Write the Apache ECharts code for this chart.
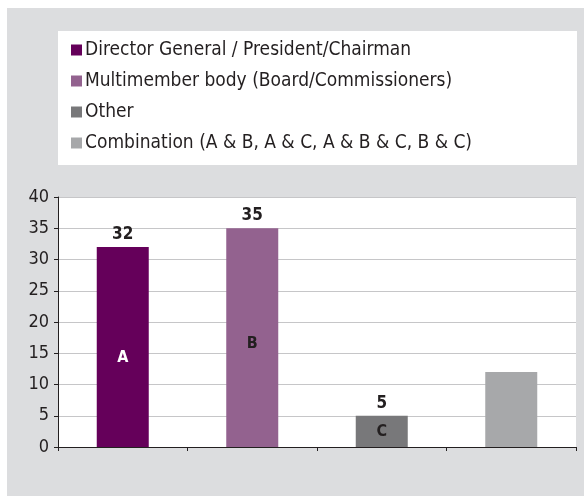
<!DOCTYPE html>
<html>
<head>
<meta charset="utf-8">
<script src="https://cdn.jsdelivr.net/npm/echarts@6/dist/echarts.min.js"></script>
<style>
  html, body { margin: 0; padding: 0; background: #fff; }
  #chart { width: 584px; height: 496px; }
</style>
</head>
<body>
<div id="chart"></div>
<script>
const categories = ["A", "B", "C", "D"];
const seriesNames = [
  "Director General / President/Chairman",
  "Multimember body (Board/Commissioners)",
  "Other",
  "Combination (A & B, A & C, A & B & C, B & C)"
];
const values = [32, 35, 5, 12];
const valueLabels = ["32", "35", "5", ""];
const letterLabels = ["A", "B", "C", ""];
const colors = ["#65005a", "#93628f", "#78787a", "#a7a8aa"];
const letterColors = ["#ffffff", "#231f20", "#231f20", "#231f20"];
const letterOffsets = [[0, 11], [0, 6], [0, 0], [0, 0]];
const yTicks = [0, 5, 10, 15, 20, 25, 30, 35, 40];

const font = "'Liberation Sans Narrow', 'DejaVu Sans Condensed', sans-serif";

// one stacked series per legend entry, value only in its own column
const barSeries = seriesNames.map((name, i) => ({
  name: name,
  type: "bar",
  stack: "main",
  barWidth: 52,
  itemStyle: { color: colors[i] },
  data: values.map((v, j) => (j === i ? v : "-")),
  label: {
    show: true,
    position: "top",
    distance: 4,
    fontFamily: font,
    fontWeight: "bold",
    fontSize: 17,
    color: "#231f20",
    formatter: (p) => valueLabels[p.dataIndex]
  }
}));

// transparent overlay that carries the A/B/C letters
const letterSeries = {
  name: "letters",
  type: "bar",
  barGap: "-100%",
  barWidth: 52,
  silent: true,
  itemStyle: { color: "rgba(0,0,0,0)" },
  data: values.map((v, j) => ({
    value: v,
    label: { color: letterColors[j], offset: letterOffsets[j] }
  })),
  label: {
    show: true,
    position: "inside",
    fontFamily: font,
    fontWeight: "bold",
    fontSize: 16,
    formatter: (p) => letterLabels[p.dataIndex]
  }
};

const option = {
  animation: false,
  backgroundColor: "#fff",
  graphic: [
    { type: "rect", left: 7, top: 8, shape: { width: 577, height: 488 }, style: { fill: "#dcdddf" }, z: -10 },
    { type: "rect", left: 58, top: 31, shape: { width: 519, height: 134 }, style: { fill: "#fff" }, z: -9 }
  ],
  legend: {
    data: seriesNames,
    orient: "vertical",
    left: 71,
    top: 40,
    itemWidth: 11,
    itemHeight: 11,
    itemGap: 11,
    icon: "rect",
    padding: 0,
    textStyle: { fontFamily: font, fontSize: 19, color: "#231f20", lineHeight: 20, padding: [0, 0, 0, -2] },
    selectedMode: false
  },
  grid: {
    left: 58,
    right: 8,
    top: 197,
    bottom: 49,
    show: true,
    backgroundColor: "#fff",
    borderWidth: 0
  },
  xAxis: {
    type: "category",
    data: categories,
    axisLine: { lineStyle: { color: "#231f20", width: 1 } },
    axisTick: { show: true, length: 4, lineStyle: { color: "#231f20" } },
    axisLabel: { show: false }
  },
  yAxis: {
    type: "value",
    min: 0,
    max: 40,
    interval: 5,
    axisLine: { show: true, lineStyle: { color: "#231f20", width: 1 } },
    axisTick: { show: true, length: 4, lineStyle: { color: "#231f20" } },
    axisLabel: {
      margin: 9,
      fontFamily: font,
      fontSize: 18,
      color: "#231f20",
      formatter: (v) => (yTicks.indexOf(v) >= 0 ? String(v) : "")
    },
    splitLine: { lineStyle: { color: "#c6c6c8", width: 1 } }
  },
  series: [...barSeries, letterSeries]
};

const chart = echarts.init(document.getElementById("chart"));
chart.setOption(option);
</script>
</body>
</html>
